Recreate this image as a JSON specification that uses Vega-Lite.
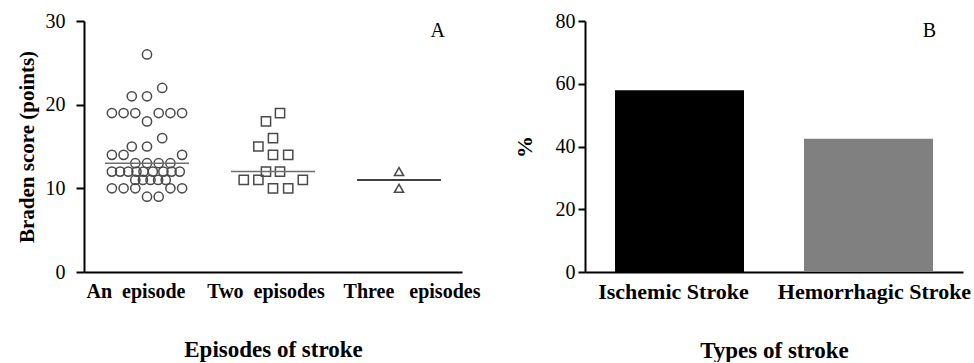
{
  "$schema": "https://vega.github.io/schema/vega-lite/v6.json",
  "background": "white",
  "padding": {"left": 16, "top": 11, "right": 0, "bottom": 0},
  "datasets": {
    "braden": [
      {"episodes": "An episode", "score": 26, "dx": 0},
      {"episodes": "An episode", "score": 22, "dx": 1.3},
      {"episodes": "An episode", "score": 21, "dx": -1.3},
      {"episodes": "An episode", "score": 21, "dx": 0},
      {"episodes": "An episode", "score": 19, "dx": -3},
      {"episodes": "An episode", "score": 19, "dx": -2},
      {"episodes": "An episode", "score": 19, "dx": -1},
      {"episodes": "An episode", "score": 19, "dx": 1},
      {"episodes": "An episode", "score": 19, "dx": 2},
      {"episodes": "An episode", "score": 19, "dx": 3},
      {"episodes": "An episode", "score": 18, "dx": 0},
      {"episodes": "An episode", "score": 16, "dx": 1.3},
      {"episodes": "An episode", "score": 15, "dx": -1.3},
      {"episodes": "An episode", "score": 15, "dx": 0},
      {"episodes": "An episode", "score": 14, "dx": -3},
      {"episodes": "An episode", "score": 14, "dx": -2},
      {"episodes": "An episode", "score": 14, "dx": 3},
      {"episodes": "An episode", "score": 13, "dx": -1},
      {"episodes": "An episode", "score": 13, "dx": 0},
      {"episodes": "An episode", "score": 13, "dx": 1},
      {"episodes": "An episode", "score": 13, "dx": 2},
      {"episodes": "An episode", "score": 12, "dx": -3},
      {"episodes": "An episode", "score": 12, "dx": -2.3},
      {"episodes": "An episode", "score": 12, "dx": -1.6},
      {"episodes": "An episode", "score": 12, "dx": -0.9},
      {"episodes": "An episode", "score": 12, "dx": -0.3},
      {"episodes": "An episode", "score": 12, "dx": 0.5},
      {"episodes": "An episode", "score": 12, "dx": 1.4},
      {"episodes": "An episode", "score": 12, "dx": 2.1},
      {"episodes": "An episode", "score": 12, "dx": 2.8},
      {"episodes": "An episode", "score": 11, "dx": -1},
      {"episodes": "An episode", "score": 11, "dx": -0.35},
      {"episodes": "An episode", "score": 11, "dx": 0.3},
      {"episodes": "An episode", "score": 11, "dx": 0.95},
      {"episodes": "An episode", "score": 11, "dx": 1.6},
      {"episodes": "An episode", "score": 10, "dx": -3},
      {"episodes": "An episode", "score": 10, "dx": -2},
      {"episodes": "An episode", "score": 10, "dx": -1},
      {"episodes": "An episode", "score": 10, "dx": 2},
      {"episodes": "An episode", "score": 10, "dx": 3},
      {"episodes": "An episode", "score": 9, "dx": 0},
      {"episodes": "An episode", "score": 9, "dx": 1},
      {"episodes": "Two episodes", "score": 19, "dx": 0.6},
      {"episodes": "Two episodes", "score": 18, "dx": -0.6},
      {"episodes": "Two episodes", "score": 16, "dx": 0},
      {"episodes": "Two episodes", "score": 15, "dx": -1.25},
      {"episodes": "Two episodes", "score": 14, "dx": 0},
      {"episodes": "Two episodes", "score": 14, "dx": 1.3},
      {"episodes": "Two episodes", "score": 12, "dx": -0.6},
      {"episodes": "Two episodes", "score": 12, "dx": 0.6},
      {"episodes": "Two episodes", "score": 11, "dx": -2.5},
      {"episodes": "Two episodes", "score": 11, "dx": -1.25},
      {"episodes": "Two episodes", "score": 11, "dx": 2.55},
      {"episodes": "Two episodes", "score": 10, "dx": 0},
      {"episodes": "Two episodes", "score": 10, "dx": 1.3},
      {"episodes": "Three episodes", "score": 12, "dx": 0},
      {"episodes": "Three episodes", "score": 10, "dx": 0}
    ],
    "medians": [
      {"episodes": "An episode", "median": 13},
      {"episodes": "Two episodes", "median": 12},
      {"episodes": "Three episodes", "median": 11}
    ],
    "types": [
      {"type": "Ischemic Stroke", "pct": 57.9},
      {"type": "Hemorrhagic Stroke", "pct": 42.5}
    ]
  },
  "config": {
    "font": "Liberation Serif",
    "view": {"stroke": null},
    "concat": {"spacing": 33},
    "axis": {
      "domainColor": "black", "domainWidth": 2, "tickColor": "black", "tickWidth": 2,
      "grid": false, "labelColor": "black", "titleColor": "black",
      "labelFont": "Liberation Serif", "titleFont": "Liberation Serif",
      "labelFontSize": 20, "titleFontSize": 22, "titleFontWeight": "bold"
    },
    "title": {"font": "Liberation Serif", "fontSize": 20, "fontWeight": "normal", "color": "black"}
  },
  "hconcat": [
    {
      "width": 378,
      "height": 251,
      "title": {"text": "A", "anchor": "end", "frame": "group", "offset": -30, "dx": -17},
      "layer": [
        {
          "data": {"name": "braden"},
          "mark": {"type": "point", "filled": false, "strokeWidth": 1.5, "size": 85, "color": "#4a4a4a", "opacity": 1},
          "encoding": {
            "x": {
              "field": "episodes", "type": "nominal",
              "sort": ["An episode", "Two episodes", "Three episodes"],
              "scale": {"type": "band", "paddingInner": 0, "paddingOuter": 0},
              "axis": {
                "title": "Episodes of stroke", "titleFontSize": 23, "titlePadding": 37,
                "labelAngle": 0, "labelFontWeight": "bold", "labelPadding": 9, "ticks": false,
                "labelOverlap": false, "labelLimit": 0,
                "labelExpr": "datum.value === 'Three episodes' ? 'Three\u00a0\u00a0\u00a0episodes' : replace(datum.value, ' ', '\u00a0\u00a0')",
                "labelOffset": {"condition": [
                  {"test": "datum.value === 'An episode'", "value": -11},
                  {"test": "datum.value === 'Two episodes'", "value": -7}
                ], "value": 13}
              }
            },
            "xOffset": {"field": "dx", "type": "quantitative", "scale": {"domain": [-5.385, 5.385]}},
            "y": {
              "field": "score", "type": "quantitative",
              "scale": {"domain": [0, 30], "nice": false},
              "axis": {"title": "Braden score (points)", "titleFontSize": 21, "values": [0, 10, 20, 30], "tickSize": 8, "labelPadding": 11, "titlePadding": 8}
            },
            "shape": {
              "field": "episodes", "type": "nominal",
              "scale": {"domain": ["An episode", "Two episodes", "Three episodes"], "range": ["circle", "square", "triangle-up"]},
              "legend": null
            }
          }
        },
        {
          "data": {"name": "medians"},
          "mark": {"type": "tick", "size": 84, "thickness": 1.5, "orient": "horizontal", "opacity": 1},
          "encoding": {
            "x": {"field": "episodes", "type": "nominal", "sort": ["An episode", "Two episodes", "Three episodes"]},
            "y": {"field": "median", "type": "quantitative"},
            "color": {
              "condition": {"test": "datum.episodes === 'Three episodes'", "value": "black"},
              "value": "#6e6e6e"
            }
          }
        }
      ]
    },
    {
      "width": 378,
      "height": 251,
      "title": {"text": "B", "anchor": "end", "frame": "group", "offset": -30, "dx": -27},
      "data": {"name": "types"},
      "mark": {"type": "bar", "size": 129},
      "encoding": {
        "x": {
          "field": "type", "type": "nominal",
          "sort": ["Ischemic Stroke", "Hemorrhagic Stroke"],
          "scale": {"type": "band", "paddingInner": 0.314, "paddingOuter": 0.157},
          "axis": {
            "title": "Types of stroke", "titleFontSize": 23, "titlePadding": 37,
            "labelAngle": 0, "labelFontWeight": "bold", "labelFontSize": 22, "labelPadding": 9, "ticks": false,
            "labelOverlap": false, "labelLimit": 0,
            "labelOffset": {"condition": {"test": "datum.value === 'Ischemic Stroke'", "value": -6}, "value": 6}
          }
        },
        "y": {
          "field": "pct", "type": "quantitative",
          "scale": {"domain": [0, 80], "nice": false},
          "axis": {"title": "%", "values": [0, 20, 40, 60, 80], "tickSize": 7, "labelPadding": 3, "titlePadding": 19}
        },
        "color": {
          "field": "type", "type": "nominal",
          "scale": {"domain": ["Ischemic Stroke", "Hemorrhagic Stroke"], "range": ["black", "#808080"]},
          "legend": null
        }
      }
    }
  ]
}
